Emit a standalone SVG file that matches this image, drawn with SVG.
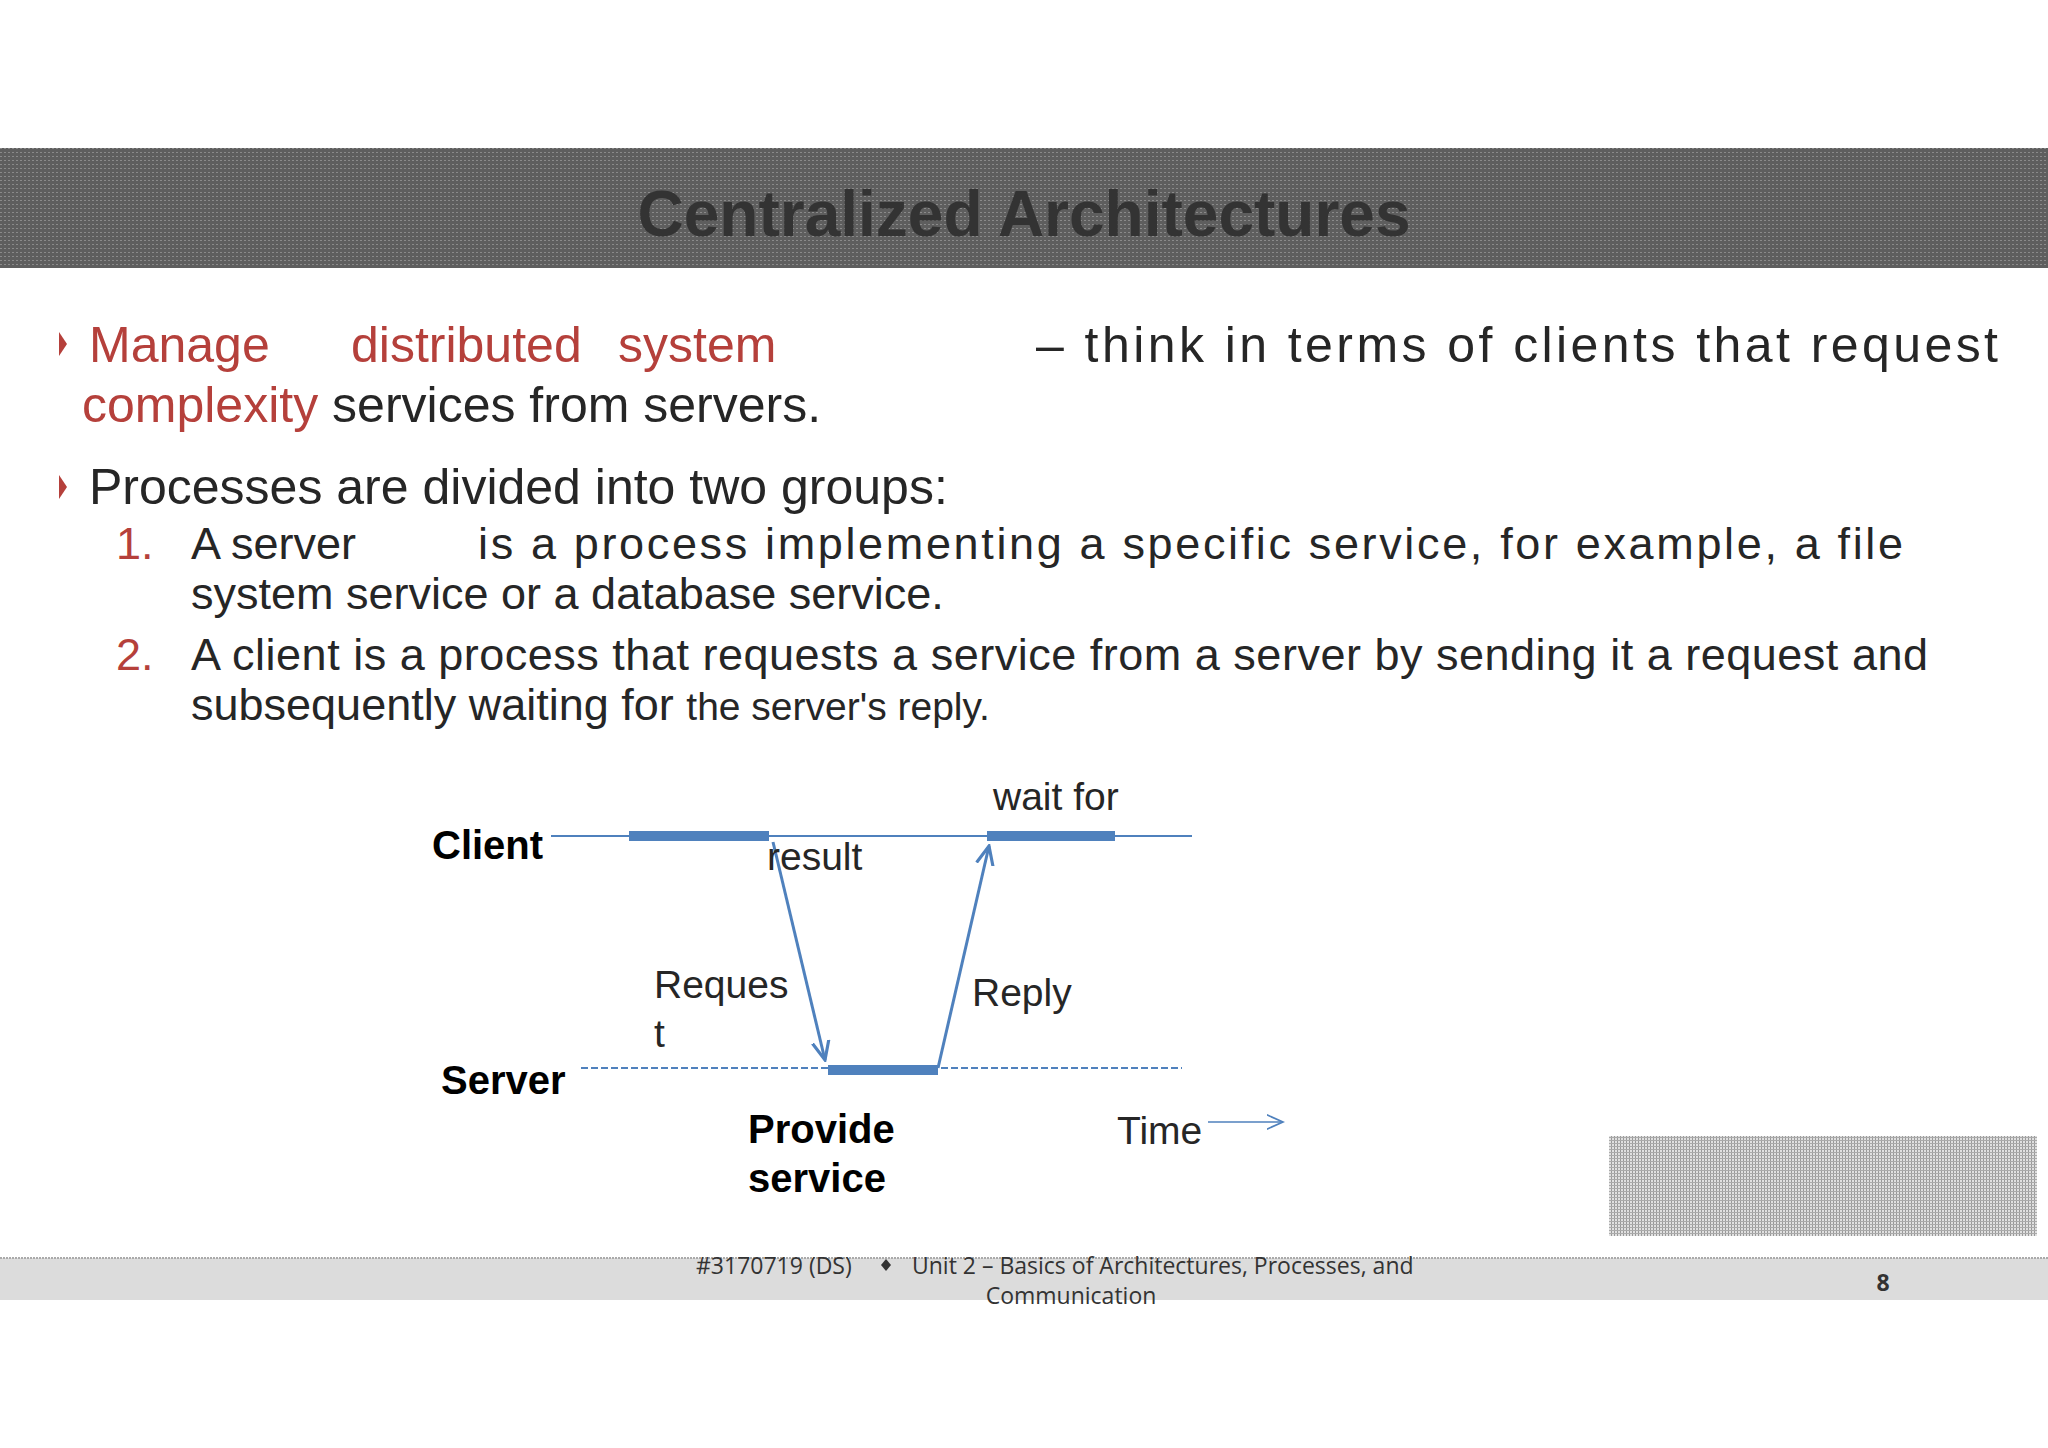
<svg xmlns="http://www.w3.org/2000/svg" width="2048" height="1448" viewBox="0 0 2048 1448">
<defs>
<style>
.t{font-family:"Liberation Sans",Arial,sans-serif;fill:#262626}
.r{fill:#B5403B}
.b{font-weight:bold;fill:#000}
.f{font-family:"Open Sans",sans-serif;font-size:23px;fill:#333}
.ln{stroke:#4F81BD;fill:none}
</style>
<pattern id="dots" width="4" height="4" patternUnits="userSpaceOnUse"><rect width="4" height="4" fill="#5e5e5e"/><rect width="2" height="1" fill="#8a8a8a"/></pattern>
<pattern id="grid" width="3" height="3" patternUnits="userSpaceOnUse"><rect width="3" height="3" fill="#e0e0e0"/><rect width="1" height="3" fill="#999"/><rect width="3" height="1" fill="#aaa"/></pattern>
<marker id="ah" viewBox="0 0 10 10" refX="9" refY="5" markerWidth="7" markerHeight="7" orient="auto"><path d="M0,1 L9,5 L0,9" fill="none" stroke="#4F81BD" stroke-width="1.5"/></marker>
<marker id="ao" viewBox="0 0 10 10" refX="9" refY="5" markerWidth="12" markerHeight="12" orient="auto"><path d="M0,1 L9,5 L0,9" fill="none" stroke="#4F81BD" stroke-width="1"/></marker>
</defs>
<rect width="2048" height="1448" fill="#fff"/>
<g id="header">
<rect x="0" y="148" width="2048" height="120" fill="url(#dots)"/>
<text x="1024" y="236" text-anchor="middle" class="t" font-size="64" font-weight="bold" fill="#333" style="fill:#333">Centralized Architectures</text>
</g>
<g id="body" class="t" font-size="50">
<path d="M59,332 L67,344 L59,356 Z" fill="#B5403B"/>
<text x="89" y="362"><tspan class="r">Manage</tspan><tspan x="351" class="r">distributed</tspan><tspan x="618" class="r">system</tspan></text>
<text x="1036" y="362" textLength="962" lengthAdjust="spacing">– think in terms of clients that request</text>
<text x="82" y="422"><tspan class="r">complexity</tspan> services from servers.</text>
<path d="M59,475 L67,487 L59,499 Z" fill="#B5403B"/>
<text x="89" y="504">Processes are divided into two groups:</text>
<g font-size="45">
<text x="116" y="559" class="r">1.</text>
<text x="191" y="559">A server</text>
<text x="478" y="559" textLength="1425" lengthAdjust="spacing">is a process implementing a specific service, for example, a file</text>
<text x="191" y="609">system service or a database service.</text>
<text x="116" y="670" class="r">2.</text>
<text x="191" y="670" textLength="1737" lengthAdjust="spacing">A client is a process that requests a service from a server by sending it a request and</text>
<text x="191" y="720">subsequently waiting for <tspan font-size="39">the server's reply.</tspan></text>
</g>
</g>
<g id="connectors">
<line class="ln" x1="551" y1="836" x2="1192" y2="836" stroke-width="2"/>
<line class="ln" x1="581" y1="1068" x2="1182" y2="1068" stroke-width="2" stroke-dasharray="7,3"/>
<line class="ln" x1="773" y1="842" x2="825" y2="1060" stroke-width="3" marker-end="url(#ah)"/>
<line class="ln" x1="938" y1="1068" x2="989" y2="846" stroke-width="3" marker-end="url(#ah)"/>
<line class="ln" x1="1208" y1="1122" x2="1283" y2="1122" stroke-width="1.5" marker-end="url(#ao)"/>
</g>
<g id="bars" fill="#4F81BD">
<rect x="629" y="831" width="140" height="10"/>
<rect x="987" y="831" width="128" height="10"/>
<rect x="828" y="1065" width="110" height="10"/>
</g>
<g id="labels" class="t" font-size="39">
<text x="432" y="859" class="b" font-size="40">Client</text>
<text x="441" y="1094" class="b" font-size="40">Server</text>
<text x="993" y="810">wait for</text>
<text x="767" y="870">result</text>
<text x="654" y="998">Reques</text>
<text x="654" y="1047">t</text>
<text x="972" y="1006">Reply</text>
<text x="748" y="1143" class="b" font-size="40">Provide</text>
<text x="748" y="1192" class="b" font-size="40">service</text>
<text x="1117" y="1144">Time</text>
</g>
<rect x="1609" y="1136" width="428" height="100" fill="url(#grid)"/>
<g id="footer">
<rect x="0" y="1258" width="2048" height="42" fill="#dcdcdc"/>
<line x1="0" y1="1258" x2="2048" y2="1258" stroke="#aaa" stroke-width="2" stroke-dasharray="2,1"/>
<text x="696" y="1274" class="f">#3170719 (DS)</text>
<path d="M886,1259 L891,1265 L886,1271 L881,1265 Z" fill="#333"/>
<text x="912" y="1274" class="f">Unit 2 – Basics of Architectures, Processes, and</text>
<text x="1071" y="1304" class="f" text-anchor="middle">Communication</text>
<text x="1883" y="1291" class="f" font-weight="bold" text-anchor="middle">8</text>
</g>
</svg>
